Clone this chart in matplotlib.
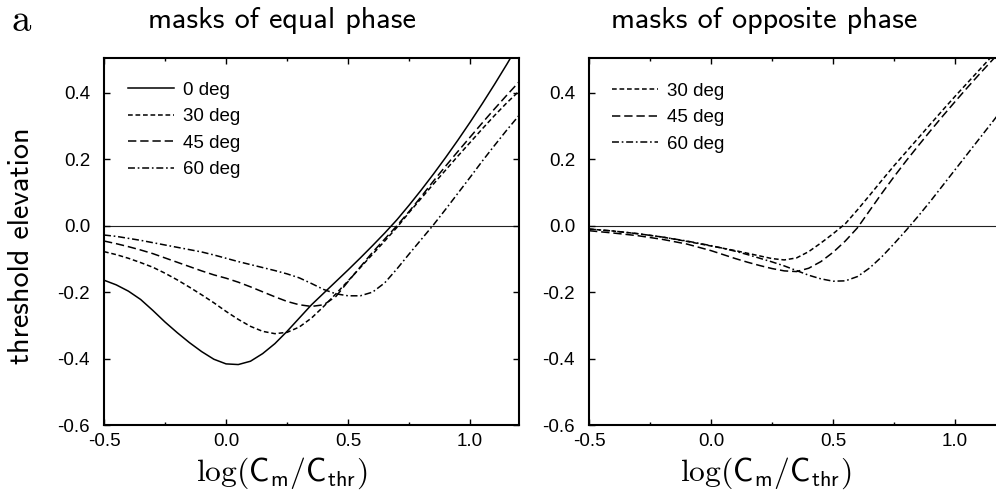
import numpy as np
import matplotlib
matplotlib.use("Agg")
import matplotlib.pyplot as plt
from matplotlib.ticker import MultipleLocator, FormatStrFormatter

plt.rcParams['axes.unicode_minus'] = False
plt.rcParams['mathtext.fontset'] = 'cm'
plt.rcParams['lines.scale_dashes'] = False
plt.rcParams['font.family'] = ['Liberation Sans', 'DejaVu Sans']

# ---------------- data ----------------
# Left panel: masks of equal phase
eq0_x = [-0.5, -0.45, -0.4, -0.35, -0.3, -0.25, -0.2, -0.15, -0.1, -0.05, 0.0, 0.05, 0.1, 0.15, 0.2, 0.25,
         0.3, 0.35, 0.4, 0.45, 0.5, 0.55, 0.6, 0.65, 0.7, 0.75, 0.8, 0.85, 0.9, 0.95, 1.0, 1.05, 1.1, 1.15, 1.2]
eq0_y = [-0.164, -0.178, -0.197, -0.222, -0.255, -0.29, -0.322, -0.352, -0.379, -0.402, -0.416, -0.418, -0.408,
         -0.385, -0.355, -0.318, -0.278, -0.238, -0.203, -0.168, -0.133, -0.097, -0.06, -0.022, 0.018, 0.062,
         0.108, 0.156, 0.206, 0.258, 0.312, 0.368, 0.426, 0.486, 0.548]

eq30_x = [-0.5, -0.45, -0.4, -0.35, -0.3, -0.25, -0.2, -0.15, -0.1, -0.05, 0.0, 0.05, 0.1, 0.15, 0.2, 0.25,
          0.3, 0.35, 0.4, 0.45, 0.5, 0.55, 0.6, 0.65, 0.7, 0.75, 0.8, 0.85, 0.9, 0.95, 1.0, 1.05, 1.1, 1.15, 1.2]
eq30_y = [-0.078, -0.087, -0.098, -0.111, -0.125, -0.143, -0.163, -0.185, -0.208, -0.232, -0.258, -0.282,
          -0.303, -0.318, -0.325, -0.321, -0.305, -0.278, -0.243, -0.205, -0.166, -0.126, -0.086, -0.046,
          -0.005, 0.040, 0.083, 0.126, 0.168, 0.21, 0.251, 0.292, 0.332, 0.37, 0.405]

eq45_x = [-0.5, -0.45, -0.4, -0.35, -0.3, -0.25, -0.2, -0.15, -0.1, -0.05, 0.0, 0.05, 0.1, 0.15, 0.2, 0.25,
          0.3, 0.35, 0.4, 0.45, 0.5, 0.55, 0.6, 0.65, 0.7, 0.75, 0.8, 0.85, 0.9, 0.95, 1.0, 1.05, 1.1, 1.15, 1.2]
eq45_y = [-0.046, -0.054, -0.063, -0.073, -0.084, -0.097, -0.110, -0.123, -0.136, -0.148, -0.158, -0.170,
          -0.184, -0.199, -0.214, -0.228, -0.238, -0.243, -0.238, -0.213, -0.168, -0.124, -0.08, -0.04,
          0.0, 0.043, 0.088, 0.135, 0.18, 0.224, 0.267, 0.31, 0.352, 0.393, 0.433]

eq60_x = [-0.5, -0.45, -0.4, -0.35, -0.3, -0.25, -0.2, -0.15, -0.1, -0.05, 0.0, 0.05, 0.1, 0.15, 0.2, 0.25,
          0.3, 0.35, 0.4, 0.45, 0.5, 0.55, 0.6, 0.65, 0.7, 0.75, 0.8, 0.85, 0.9, 0.95, 1.0, 1.05, 1.1, 1.15, 1.2]
eq60_y = [-0.028, -0.032, -0.038, -0.044, -0.051, -0.058, -0.065, -0.072, -0.079, -0.088, -0.098, -0.108,
          -0.117, -0.126, -0.135, -0.145, -0.157, -0.174, -0.192, -0.205, -0.211, -0.211, -0.2, -0.172,
          -0.13, -0.085, -0.041, 0.003, 0.05, 0.098, 0.146, 0.195, 0.242, 0.288, 0.332]

# Right panel: masks of opposite phase
op30_x = [-0.5, -0.4, -0.3, -0.2, -0.1, 0.0, 0.05, 0.1, 0.15, 0.2, 0.25, 0.3, 0.35, 0.4, 0.45, 0.5, 0.55,
          0.6, 0.65, 0.7, 0.75, 0.8, 0.85, 0.9, 0.95, 1.0, 1.05, 1.1, 1.15, 1.2]
op30_y = [-0.01, -0.016, -0.024, -0.034, -0.047, -0.061, -0.068, -0.075, -0.083, -0.091, -0.099, -0.103,
          -0.097, -0.078, -0.052, -0.024, 0.006, 0.048, 0.092, 0.137, 0.181, 0.223, 0.265, 0.307, 0.349,
          0.39, 0.43, 0.47, 0.51, 0.55]

op45_x = [-0.5, -0.4, -0.3, -0.2, -0.1, 0.0, 0.05, 0.1, 0.15, 0.2, 0.25, 0.3, 0.35, 0.4, 0.45, 0.5, 0.55,
          0.6, 0.65, 0.7, 0.75, 0.8, 0.85, 0.9, 0.95, 1.0, 1.05, 1.1, 1.15, 1.2]
op45_y = [-0.015, -0.022, -0.03, -0.041, -0.055, -0.075, -0.087, -0.099, -0.11, -0.12, -0.129, -0.136,
          -0.138, -0.128, -0.108, -0.08, -0.046, -0.006, 0.046, 0.098, 0.148, 0.196, 0.242, 0.287, 0.331,
          0.374, 0.416, 0.457, 0.497, 0.537]

op60_x = [-0.5, -0.4, -0.3, -0.2, -0.1, 0.0, 0.05, 0.1, 0.15, 0.2, 0.25, 0.3, 0.35, 0.4, 0.45, 0.5, 0.55,
          0.6, 0.65, 0.7, 0.75, 0.8, 0.85, 0.9, 0.95, 1.0, 1.05, 1.1, 1.15, 1.2]
op60_y = [-0.01, -0.016, -0.024, -0.034, -0.046, -0.06, -0.068, -0.077, -0.087, -0.098, -0.109, -0.121,
          -0.135, -0.149, -0.16, -0.167, -0.166, -0.153, -0.127, -0.093, -0.054, -0.013, 0.03, 0.075,
          0.122, 0.169, 0.216, 0.263, 0.31, 0.357]

labels_left = ['0 deg', '30 deg', '45 deg', '60 deg']
labels_right = ['30 deg', '45 deg', '60 deg']
xticks = [-0.5, 0.0, 0.5, 1.0]
yticks = [-0.6, -0.4, -0.2, 0.0, 0.2, 0.4]

# ---------------- styles ----------------
LW = 1.1
styles = {
    '0 deg': dict(linestyle='-'),
    '30 deg': dict(dashes=(3.4, 2.0)),
    '45 deg': dict(dashes=(6.0, 2.8)),
    '60 deg': dict(dashes=(5.0, 2.0, 1.2, 2.0)),
}

fig = plt.figure(figsize=(9.96, 4.97), dpi=100)
W, H = 996.0, 497.0
ax1 = fig.add_axes([104 / W, (H - 425) / H, 415 / W, 367 / H])
ax2 = fig.add_axes([589 / W, (H - 425) / H, 415 / W, 367 / H])

left_series = [(eq0_x, eq0_y), (eq30_x, eq30_y), (eq45_x, eq45_y), (eq60_x, eq60_y)]
right_series = [(op30_x, op30_y), (op45_x, op45_y), (op60_x, op60_y)]

for ax, series, labels in [(ax1, left_series, labels_left), (ax2, right_series, labels_right)]:
    ax.axhline(0.0, color='#222222', lw=0.8, zorder=1)
    for (xs, ys), lab in zip(series, labels):
        ax.plot(xs, ys, color='black', lw=LW, label=lab, **styles[lab])
    ax.set_xlim(-0.5, 1.2)
    ax.set_ylim(-0.6, 0.505)
    ax.set_xticks(xticks)
    ax.set_yticks(yticks)
    ax.xaxis.set_minor_locator(MultipleLocator(0.25))
    ax.xaxis.set_major_formatter(FormatStrFormatter('%.1f'))
    ax.yaxis.set_major_formatter(FormatStrFormatter('%.1f'))
    ax.tick_params(which='both', direction='in', top=True, right=True, width=1.0)
    ax.tick_params(which='major', length=4)
    ax.tick_params(which='minor', length=2.5)
    ax.tick_params(axis='y', pad=10, labelsize=13.5)
    ax.tick_params(axis='x', pad=6, labelsize=13.5)
    for sp in ax.spines.values():
        sp.set_linewidth(1.5)

leg_kw = dict(frameon=False, handlelength=2.45, handletextpad=0.5, labelspacing=0.5,
              borderaxespad=0, borderpad=0, fontsize=13.5, loc='upper left')
ax1.legend(bbox_to_anchor=(0.058, 0.935), **leg_kw)
ax2.legend(bbox_to_anchor=(0.055, 0.933), **leg_kw)

tfs = 21.8
fig.text(282 / W, 1 - 21 / H, 'masks of equal phase', family='cmss10', fontsize=tfs, ha='center', va='center')
fig.text(764 / W, 1 - 21 / H, 'masks of opposite phase', family='cmss10', fontsize=tfs, ha='center', va='center')
fig.text(21 / W, 1 - 21 / H, 'a', family='cmr10', fontsize=28, ha='center', va='center')
fig.text(22 / W, 1 - 246 / H, 'threshold elevation', family='cmss10', fontsize=tfs, rotation=90,
         ha='center', va='center')
xl = r'$\log(\mathsf{C}_{\mathsf{m}}/\mathsf{C}_{\mathsf{thr}})$'
fig.text(282 / W, 1 - 473 / H, xl, fontsize=22.8, ha='center', va='center')
fig.text(766 / W, 1 - 473 / H, xl, fontsize=22.8, ha='center', va='center')

fig.savefig('out.png', dpi=100)
